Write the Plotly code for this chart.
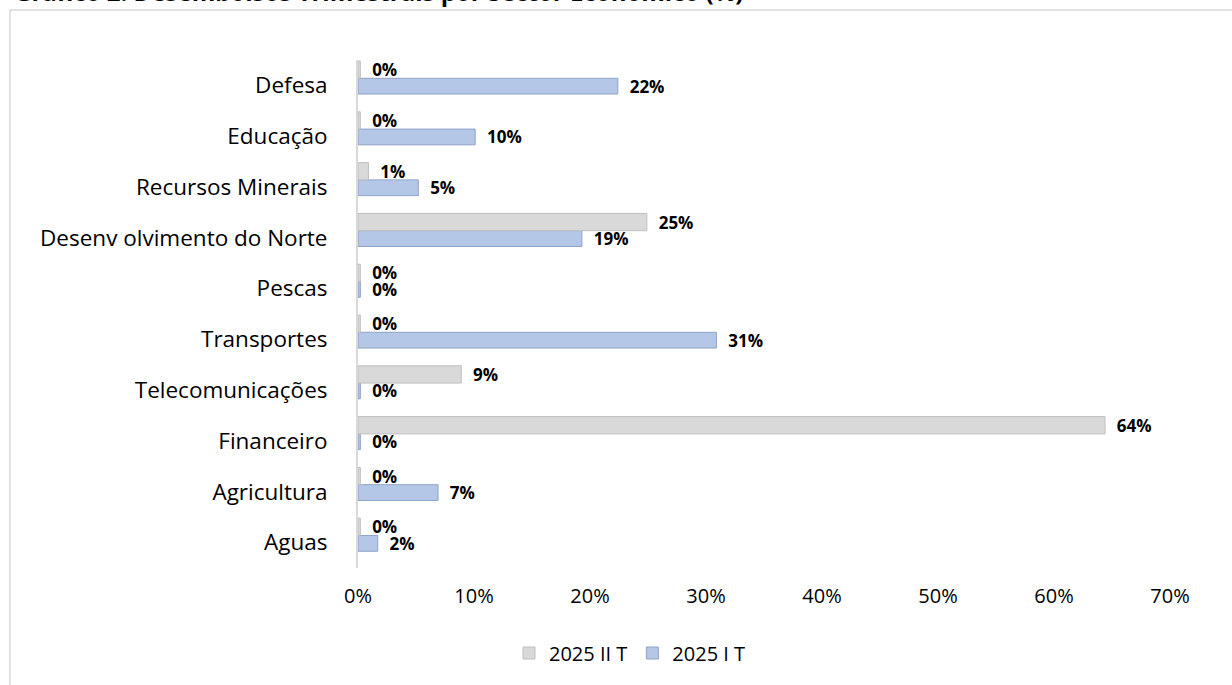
import plotly.graph_objects as go

# sectors, bottom to top as plotted
sectors = ["Aguas", "Agricultura", "Financeiro", "Telecomunicações", "Transportes",
           "Pescas", "Desenv olvimento do Norte", "Recursos Minerais", "Educação", "Defesa"]

# disbursement share per sector (%)
q1_2025 = [1.7, 6.9, 0.2, 0.2, 30.9, 0.2, 19.3, 5.2, 10.1, 22.4]   # 2025 I T
q2_2025 = [0.2, 0.2, 64.4, 8.9, 0.2, 0.2, 24.9, 0.9, 0.2, 0.2]     # 2025 II T

x_ticks = [0, 10, 20, 30, 40, 50, 60, 70]

title_text = "Gráfico 2: Desembolsos Trimestrais por Sector Económico (%)"

W, H = 1232, 685
L, R, T, B = 358, 62, 60, 117
pw, ph = W - L - R, H - T - B


def px_x(p):
    return (p - L) / pw


def px_y(p):
    return (H - B - p) / ph


label_font = dict(family="Open Sans", size=17, color="#000000", weight="bold")
pad = "\u00a0\u00a0"

fig = go.Figure()

# bars sit a little above the category centre, like the 3D original
fig.add_trace(go.Bar(
    y=sectors, x=q1_2025, orientation="h", name="2025 I T",
    width=0.31, offset=-0.17,
    marker=dict(color="#B4C7E7", line=dict(color="#8EA3C6", width=1)),
    texttemplate=pad + "%{x:.0f}%", textposition="outside", textfont=label_font,
    constraintext="none", cliponaxis=False,
))
fig.add_trace(go.Bar(
    y=sectors, x=q2_2025, orientation="h", name="2025 II T",
    width=0.34, offset=0.14,
    marker=dict(color="#D9D9D9", line=dict(color="#BFBFBF", width=1)),
    texttemplate=pad + "%{x:.0f}%", textposition="outside", textfont=label_font,
    constraintext="none", cliponaxis=False,
))

fig.update_layout(
    width=W, height=H,
    margin=dict(l=L, r=R, t=T, b=B),
    paper_bgcolor="white", plot_bgcolor="white",
    barmode="group",
    font=dict(family="Open Sans", color="#000000"),
    xaxis=dict(
        range=[0, 70], tickvals=x_ticks, ticktext=[f"{v}%" for v in x_ticks],
        showgrid=False, zeroline=False, showline=False,
        tickfont=dict(size=20, color="#000000"), ticklabelstandoff=14,
    ),
    yaxis=dict(
        showgrid=False, zeroline=False, showline=True, linecolor="#D9D9D9", linewidth=2,
        tickfont=dict(size=22.5, color="#000000"), ticks="", ticklabelstandoff=24,
    ),
    legend=dict(
        orientation="h", traceorder="reversed", x=px_x(630), y=px_y(653),
        xanchor="center", yanchor="middle", font=dict(size=20, color="#000000"),
        itemwidth=30,
    ),
    showlegend=True,
    shapes=[dict(
        type="rect", xref="paper", yref="paper",
        x0=px_x(10), x1=px_x(1250), y0=px_y(700), y1=px_y(10),
        line=dict(color="#D9D9D9", width=1.5), fillcolor="rgba(0,0,0,0)", layer="below",
    )],
    annotations=[dict(
        text=title_text, xref="paper", yref="paper", x=px_x(12), y=px_y(-9),
        xanchor="left", yanchor="middle", showarrow=False,
        font=dict(family="Open Sans", size=24, color="#000000", weight="bold"),
    )],
)

fig.write_html("out.html", config={"displayModeBar": False},
               post_script="document.body.style.margin='0';")
